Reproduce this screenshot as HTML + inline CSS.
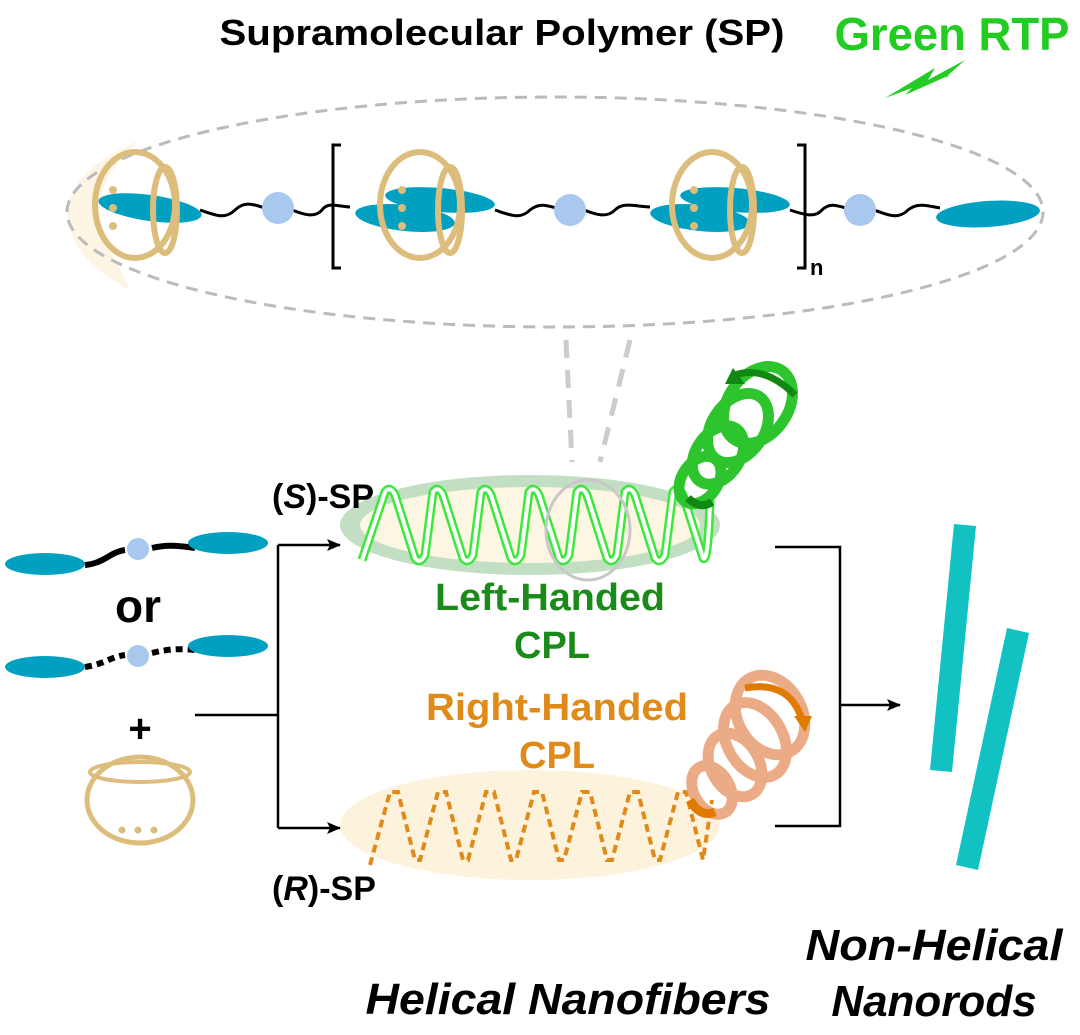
<!DOCTYPE html>
<html><head><style>
html,body{margin:0;padding:0;background:#fff}
svg{display:block}
text{font-family:"Liberation Sans",Arial,sans-serif;font-weight:bold}
</style></head><body>
<svg width="1080" height="1035" viewBox="0 0 1080 1035" xmlns="http://www.w3.org/2000/svg">
<defs>
<marker id="ar" markerWidth="14" markerHeight="12" refX="13" refY="6" orient="auto" markerUnits="userSpaceOnUse"><path d="M0,0 L14,6 L0,12 L3,6 z" fill="#000"/></marker>
</defs>
<!-- titles -->
<text x="502" y="45" font-size="36" text-anchor="middle" fill="#000" textLength="565" lengthAdjust="spacingAndGlyphs">Supramolecular Polymer (SP)</text>
<text x="952" y="50" font-size="46" text-anchor="middle" fill="#22cc22" textLength="235" lengthAdjust="spacingAndGlyphs">Green RTP</text>
<path d="M885,98 L935,68 L928,80 L965,60 L945,78 L952,74 L905,95 L912,88 z" fill="#22cc22"/>
<!-- big dashed ellipse -->
<path d="M120,150 C80,170 60,200 70,230 C80,260 110,280 130,290 L100,230 C95,200 105,170 140,140 z" fill="#fdf3dc" opacity="0.8"/>
<ellipse cx="555" cy="212" rx="488" ry="115" fill="none" stroke="#bbb" stroke-width="3" stroke-dasharray="12,8"/>
<!-- chain -->
<g stroke="#000" stroke-width="3" fill="none">
<path d="M200,210 C215,215 225,220 235,210 C245,200 255,205 265,208"/>
<path d="M292,210 C305,215 315,218 322,210 C328,202 335,206 350,207"/>
<path d="M495,210 C510,215 520,220 530,210 C540,202 548,206 556,208"/>
<path d="M584,210 C597,215 607,218 615,210 C623,202 633,206 650,207"/>
<path d="M790,210 C805,215 815,218 822,210 C830,202 838,206 846,208"/>
<path d="M874,210 C888,215 898,220 908,210 C918,202 928,206 940,208"/>
<path d="M341,145 L333,145 L333,268 L341,268"/>
<path d="M797,145 L805,145 L805,268 L797,268"/>
</g>
<text x="810" y="275" font-size="22" fill="#000">n</text>
<g fill="#00a0c0">
<ellipse cx="150" cy="208" rx="52" ry="13" transform="rotate(8 150 208)"/>
<ellipse cx="440" cy="200" rx="55" ry="12" transform="rotate(5 440 200)"/>
<ellipse cx="405" cy="218" rx="50" ry="13" transform="rotate(6 405 218)"/>
<ellipse cx="735" cy="200" rx="55" ry="12" transform="rotate(5 735 200)"/>
<ellipse cx="700" cy="218" rx="50" ry="13" transform="rotate(6 700 218)"/>
<ellipse cx="988" cy="214" rx="52" ry="13" transform="rotate(-4 988 214)"/>
</g>
<g fill="#a8c8ee"><circle cx="278" cy="208" r="16"/><circle cx="570" cy="210" r="16"/><circle cx="860" cy="210" r="16"/></g>
<g fill="none" stroke="#dcbd7c" stroke-width="6">
<ellipse cx="135" cy="205" rx="40" ry="53"/><ellipse cx="165" cy="210" rx="12" ry="43"/>
<ellipse cx="420" cy="205" rx="40" ry="53"/><ellipse cx="450" cy="210" rx="12" ry="43"/>
<ellipse cx="712" cy="205" rx="40" ry="53"/><ellipse cx="742" cy="210" rx="12" ry="43"/>
</g>
<g fill="#dcbd7c">
<circle cx="113" cy="190" r="4"/><circle cx="113" cy="208" r="4"/><circle cx="113" cy="226" r="4"/>
<circle cx="402" cy="190" r="4"/><circle cx="402" cy="208" r="4"/><circle cx="402" cy="226" r="4"/>
<circle cx="694" cy="190" r="4"/><circle cx="694" cy="208" r="4"/><circle cx="694" cy="226" r="4"/>
</g>
<!-- zoom lines -->
<g stroke="#ccc" stroke-width="5" stroke-dasharray="18,12" fill="none">
<path d="M566,340 L572,462"/><path d="M630,340 L600,462"/>
</g>
<!-- S-SP ellipse -->
<ellipse cx="530" cy="525" rx="190" ry="50" fill="#c3dfc3"/>
<ellipse cx="530" cy="525" rx="170" ry="38" fill="#fdf6e3"/>
<path d="M362,560 L385,492 Q390,485 395,495 L415,558 Q420,565 425,555 L433,492 Q438,485 443,495 L463,558 Q468,565 473,555 L481,492 Q486,485 491,495 L511,558 Q516,565 521,555 L529,492 Q534,485 539,495 L559,558 Q564,565 569,555 L577,492 Q582,485 587,495 L607,558 Q612,565 617,555 L625,492 Q630,485 635,495 L655,558 Q660,565 665,555 L673,492 Q678,485 683,495 L703,558 Q708,565 710,500" fill="none" stroke="#3be83b" stroke-width="9" stroke-linejoin="round"/>
<path d="M362,560 L385,492 Q390,485 395,495 L415,558 Q420,565 425,555 L433,492 Q438,485 443,495 L463,558 Q468,565 473,555 L481,492 Q486,485 491,495 L511,558 Q516,565 521,555 L529,492 Q534,485 539,495 L559,558 Q564,565 569,555 L577,492 Q582,485 587,495 L607,558 Q612,565 617,555 L625,492 Q630,485 635,495 L655,558 Q660,565 665,555 L673,492 Q678,485 683,495 L703,558 Q708,565 710,500" fill="none" stroke="#fff" stroke-width="4" stroke-linejoin="round"/>
<ellipse cx="588" cy="530" rx="42" ry="50" fill="none" stroke="#c8c8c8" stroke-width="3"/>
<!-- green spring -->
<g fill="none" stroke="#2ec42e" stroke-width="11">
<ellipse cx="700" cy="480" rx="18" ry="26" transform="rotate(35 700 480)"/>
<ellipse cx="718" cy="455" rx="22" ry="32" transform="rotate(35 718 455)"/>
<ellipse cx="738" cy="428" rx="26" ry="38" transform="rotate(35 738 428)"/>
<ellipse cx="758" cy="405" rx="30" ry="42" transform="rotate(35 758 405)"/>
</g>
<path d="M735,375 Q765,365 795,395" fill="none" stroke="#118811" stroke-width="7"/>
<path d="M733,368 L745,384 L725,384 z" fill="#118811"/>
<path d="M688,498 Q700,510 712,502" stroke="#118811" stroke-width="8" fill="none"/>
<!-- labels -->
<text x="272" y="508" font-size="34" fill="#000">(<tspan font-style="italic">S</tspan>)-SP</text>
<text x="550" y="610" font-size="38" text-anchor="middle" fill="#1a8a1a" textLength="230" lengthAdjust="spacingAndGlyphs">Left-Handed</text>
<text x="552" y="658" font-size="38" text-anchor="middle" fill="#1a8a1a">CPL</text>
<text x="557" y="720" font-size="38" text-anchor="middle" fill="#e08a1a" textLength="262" lengthAdjust="spacingAndGlyphs">Right-Handed</text>
<text x="557" y="768" font-size="38" text-anchor="middle" fill="#e08a1a">CPL</text>
<text x="272" y="900" font-size="34" fill="#000">(<tspan font-style="italic">R</tspan>)-SP</text>
<!-- R-SP -->
<ellipse cx="530" cy="825" rx="190" ry="55" fill="#fdf3dc"/>
<path d="M370,865 L390,792 L398,792 L415,860 L420,860 L438,792 L446,792 L463,860 L468,860 L486,792 L494,792 L511,860 L516,860 L534,792 L542,792 L559,860 L564,860 L582,792 L590,792 L607,860 L612,860 L630,792 L638,792 L655,860 L660,860 L678,792 L686,792 L703,860 L712,800" fill="none" stroke="#e08a1a" stroke-width="4" stroke-dasharray="8,5"/>
<!-- orange spring -->
<g fill="none" stroke="#e8a27a" stroke-width="11" opacity="0.9">
<ellipse cx="712" cy="790" rx="18" ry="26" transform="rotate(-30 712 790)"/>
<ellipse cx="735" cy="765" rx="24" ry="34" transform="rotate(-30 735 765)"/>
<ellipse cx="755" cy="740" rx="28" ry="40" transform="rotate(-30 755 740)"/>
<ellipse cx="770" cy="715" rx="32" ry="42" transform="rotate(-30 770 715)"/>
</g>
<path d="M745,688 Q790,680 802,720" fill="none" stroke="#e07a00" stroke-width="7"/>
<path d="M794,716 L812,716 L805,732 z" fill="#e07a00"/>
<path d="M690,800 Q700,818 715,812" stroke="#e07a00" stroke-width="9" fill="none"/>
<!-- left reactants -->
<path d="M85,565 C105,563 110,552 125,550 M152,548 C165,545 175,545 195,548" stroke="#000" stroke-width="6" fill="none"/>
<ellipse cx="45" cy="564" rx="40" ry="11" fill="#00a0c0"/>
<ellipse cx="228" cy="543" rx="40" ry="11" fill="#00a0c0"/>
<circle cx="138" cy="549" r="11" fill="#a8c8ee"/>
<text x="138" y="622" font-size="46" text-anchor="middle" fill="#000">or</text>
<path d="M85,667 C105,664 110,657 125,655 M152,653 C165,650 175,648 195,650" stroke="#000" stroke-width="6" stroke-dasharray="7,5" fill="none"/>
<ellipse cx="45" cy="667" rx="40" ry="11" fill="#00a0c0"/>
<ellipse cx="228" cy="646" rx="40" ry="11" fill="#00a0c0"/>
<circle cx="138" cy="656" r="11" fill="#a8c8ee"/>
<text x="140" y="742" font-size="40" text-anchor="middle" fill="#000">+</text>
<ellipse cx="140" cy="800" rx="53" ry="43" fill="none" stroke="#dcbd7c" stroke-width="5"/>
<ellipse cx="140" cy="772" rx="50" ry="10" fill="none" stroke="#dcbd7c" stroke-width="4"/>
<g fill="#dcbd7c"><circle cx="122" cy="830" r="3.5"/><circle cx="138" cy="830" r="3.5"/><circle cx="154" cy="830" r="3.5"/></g>
<!-- connectors -->
<g stroke="#000" stroke-width="2.5" fill="none">
<path d="M195,715 L278,715"/><path d="M278,545 L278,828"/>
<path d="M278,545 L340,545" marker-end="url(#ar)"/><path d="M278,828 L340,828" marker-end="url(#ar)"/>
<path d="M775,547 L840,547 L840,826 L775,826"/>
<path d="M840,705 L900,705" marker-end="url(#ar)"/>
</g>
<!-- rods -->
<path d="M954,524 L976,526 L952,772 L930,770 z" fill="#12c2c2"/>
<path d="M1007,628 L1029,633 L978,870 L956,865 z" fill="#12c2c2"/>
<!-- bottom labels -->
<text x="568" y="1014" font-size="44" font-style="italic" text-anchor="middle" fill="#000" textLength="405" lengthAdjust="spacingAndGlyphs">Helical Nanofibers</text>
<text x="934" y="960" font-size="44" font-style="italic" text-anchor="middle" fill="#000" textLength="257" lengthAdjust="spacingAndGlyphs">Non-Helical</text>
<text x="934" y="1016" font-size="44" font-style="italic" text-anchor="middle" fill="#000">Nanorods</text>
</svg>
</body></html>
